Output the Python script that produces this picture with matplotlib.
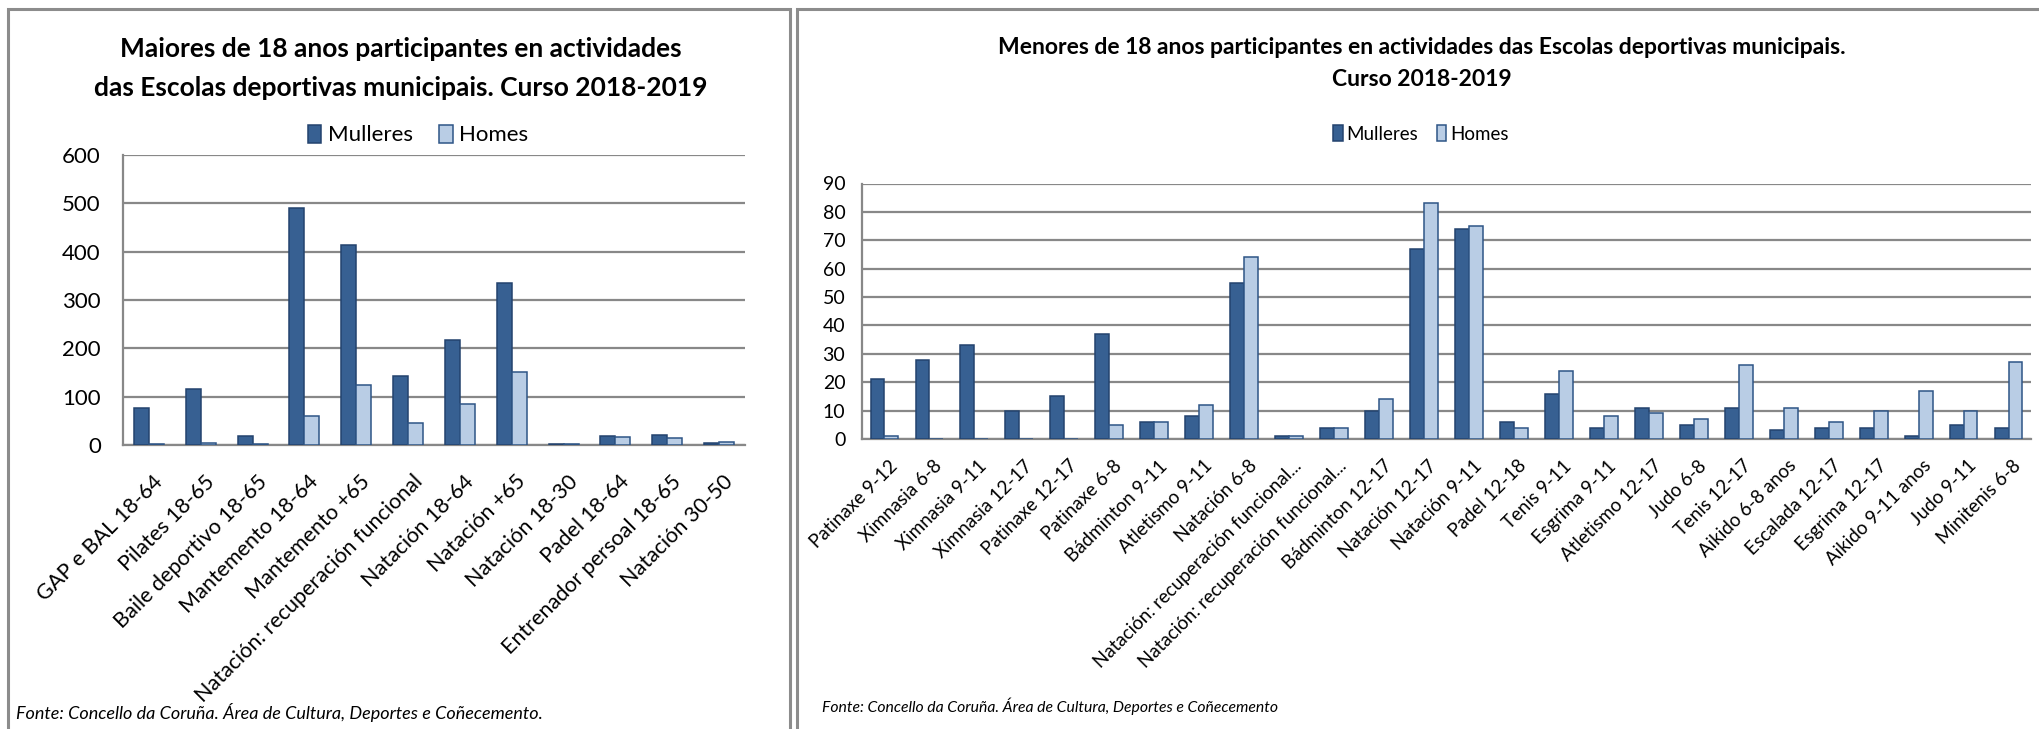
import matplotlib
matplotlib.use("Agg")
import matplotlib.pyplot as plt
from matplotlib.patches import Rectangle, Patch
from matplotlib.transforms import ScaledTranslation
import numpy as np

plt.rcParams['font.family'] = ['Lato', 'DejaVu Sans']

# ---- Data: adults (maiores de 18) ----
adult_labels = [
    "GAP e BAL 18-64", "Pilates 18-65", "Baile deportivo 18-65",
    "Mantemento 18-64", "Mantemento +65", "Natación: recuperación funcional",
    "Natación 18-64", "Natación +65", "Natación 18-30", "Padel 18-64",
    "Entrenador persoal 18-65", "Natación 30-50",
]
adult_mulleres = [77, 116, 18, 491, 414, 143, 218, 335, 3, 18, 20, 5]
adult_homes = [2, 4, 2, 59, 125, 46, 85, 151, 3, 17, 15, 6]
adult_yticks = [0, 100, 200, 300, 400, 500, 600]

# ---- Data: minors (menores de 18) ----
minor_labels = [
    "Patinaxe 9-12", "Ximnasia 6-8", "Ximnasia 9-11", "Ximnasia 12-17",
    "Patinaxe 12-17", "Patinaxe 6-8", "Bádminton 9-11", "Atletismo 9-11",
    "Natación 6-8", "Natación: recuperación funcional...",
    "Natación: recuperación funcional...", "Bádminton 12-17",
    "Natación 12-17", "Natación 9-11", "Padel 12-18", "Tenis 9-11",
    "Esgrima 9-11", "Atletismo 12-17", "Judo 6-8", "Tenis 12-17",
    "Aikido 6-8 anos", "Escalada 12-17", "Esgrima 12-17", "Aikido 9-11 anos",
    "Judo 9-11", "Minitenis 6-8",
]
minor_mulleres = [21, 28, 33, 10, 15, 37, 6, 8, 55, 1, 4, 10, 67, 74,
                  6, 16, 4, 11, 5, 11, 3, 4, 4, 1, 5, 4]
minor_homes = [1, 0, 0, 0, 0, 5, 6, 12, 64, 1, 4, 14, 83, 75,
               4, 24, 8, 9, 7, 26, 11, 6, 10, 17, 10, 27]
minor_yticks = [0, 10, 20, 30, 40, 50, 60, 70, 80, 90]

series_names = ["Mulleres", "Homes"]

DARK = "#376092"
DARK_EDGE = "#23436E"
LIGHT = "#B9CDE5"
LIGHT_EDGE = "#2E5586"
GRID = "#888888"
FRAME = "#8C8C8C"

W, H = 2040, 729
fig = plt.figure(figsize=(W / 100, H / 100), dpi=100)
fig.patch.set_facecolor("white")


def px_axes(x0, y0, x1, y1):
    """Create axes from pixel box (top-left origin)."""
    return fig.add_axes([x0 / W, 1 - y1 / H, (x1 - x0) / W, (y1 - y0) / H])


def fx(x):
    return x / W


def fy(y):
    return 1 - y / H


# panel frames
for (x0, x1) in [(8, 790), (797, 2046)]:
    fig.patches.append(Rectangle((fx(x0), fy(740)), fx(x1 - x0), (740 - 9) / H,
                                 transform=fig.transFigure, fill=False,
                                 edgecolor=FRAME, linewidth=2.2, zorder=0))


def draw_bars(ax, labels, m, h, yticks, width, label_size, tick_size,
              ypad, xpad):
    x = np.arange(len(labels))
    ax.bar(x - width / 2, m, width, color=DARK, edgecolor=DARK_EDGE,
           linewidth=1.1, zorder=3)
    ax.bar(x + width / 2, h, width, color=LIGHT, edgecolor=LIGHT_EDGE,
           linewidth=1.1, zorder=3)
    ax.set_xlim(-0.5, len(labels) - 0.5)
    ax.set_ylim(yticks[0], yticks[-1])
    ax.set_yticks(yticks)
    ax.yaxis.grid(True, color=GRID, linewidth=1.6, zorder=0)
    ax.set_axisbelow(True)
    for s in ["top", "right"]:
        ax.spines[s].set_visible(False)
    for s in ["left", "bottom"]:
        ax.spines[s].set_color(GRID)
        ax.spines[s].set_linewidth(1.6)
    ax.tick_params(axis="both", length=0)
    ax.tick_params(axis="y", labelsize=tick_size, pad=ypad)
    ax.set_xticks(x)
    ax.set_xticklabels(labels, rotation=45, ha="right", va="top",
                       rotation_mode="anchor", fontsize=label_size)
    ax.tick_params(axis="x", pad=xpad)
    shift = ScaledTranslation(4 / 100, 0, fig.dpi_scale_trans)
    for lab in ax.get_xticklabels():
        lab.set_transform(lab.get_transform() + shift)


# ---- left chart ----
axL = px_axes(123, 155, 745, 445)
draw_bars(axL, adult_labels, adult_mulleres, adult_homes, adult_yticks,
          0.29, 15.5, 16, 16, 19)
fig.text(fx(401), fy(49), "Maiores de 18 anos participantes en actividades",
         ha="center", va="center", fontsize=19, fontweight="bold")
fig.text(fx(401), fy(88), "das Escolas deportivas municipais. Curso 2018-2019",
         ha="center", va="center", fontsize=19, fontweight="bold")
handles = [Patch(facecolor=DARK, edgecolor=DARK_EDGE, linewidth=1.1),
           Patch(facecolor=LIGHT, edgecolor=LIGHT_EDGE, linewidth=1.1)]
fig.legend(handles, series_names, loc="center", bbox_to_anchor=(fx(418), fy(135)),
           ncol=2, frameon=False, fontsize=16, handlelength=0.6,
           handleheight=0.9, handletextpad=0.3, columnspacing=1.2)
fig.text(fx(16), fy(712),
         "Fonte: Concello da Coruña. Área de Cultura, Deportes e Coñecemento.",
         ha="left", va="center", fontsize=13, fontstyle="italic")

# ---- right chart ----
axR = px_axes(862, 183.5, 2031, 439)
draw_bars(axR, minor_labels, minor_mulleres, minor_homes, minor_yticks,
          0.31, 13.5, 14, 12, 13)
fig.text(fx(1422), fy(47),
         "Menores de 18 anos participantes en actividades das Escolas deportivas municipais.",
         ha="center", va="center", fontsize=16.5, fontweight="bold")
fig.text(fx(1422), fy(79), "Curso 2018-2019",
         ha="center", va="center", fontsize=16.5, fontweight="bold")
fig.legend(handles, series_names, loc="center", bbox_to_anchor=(fx(1421), fy(134)),
           ncol=2, frameon=False, fontsize=13.5, handlelength=0.5,
           handleheight=0.9, handletextpad=0.2, columnspacing=1.0)
fig.text(fx(822), fy(706),
         "Fonte: Concello da Coruña. Área de Cultura, Deportes e Coñecemento",
         ha="left", va="center", fontsize=11.3, fontstyle="italic")

fig.savefig("out.png", dpi=100, facecolor="white")
